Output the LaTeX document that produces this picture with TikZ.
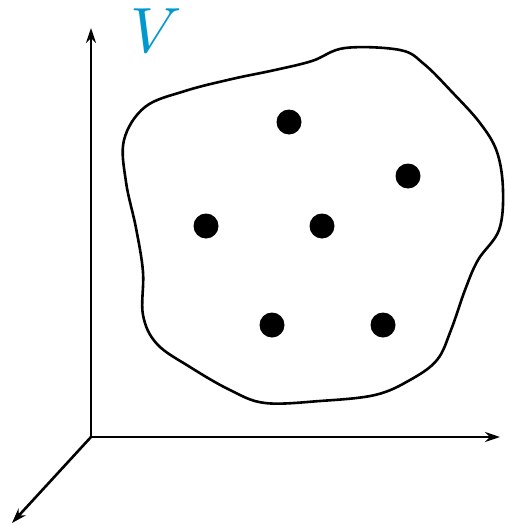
\documentclass[tikz,border=0pt]{standalone}
\usetikzlibrary{arrows.meta}
\definecolor{vblue}{RGB}{0,152,205}
\begin{document}
\begin{tikzpicture}[x=1pt,y=-1pt,
  axis/.style={line width=2.6pt,-{Stealth[length=15pt,width=10pt]}},
  blob/.style={line width=2.6pt},
  pt/.style={circle,fill=black,inner sep=0pt,minimum size=25pt}]
\useasboundingbox (0,0) rectangle (508,525);
\coordinate (o) at (91,437);
\coordinate (ytip) at (91,28);
\coordinate (xtip) at (500,437);
\coordinate (ztip) at (12,523);
\draw[axis] (o) -- (ytip);
\draw[axis] (o) -- (xtip);
\draw[axis] (o) -- (ztip);
\node[text=vblue,inner sep=0pt,scale=6.4] (V) at (156,31) {$V$};
\draw[blob] plot[smooth cycle,tension=0.6] coordinates {
(345,48) (400,50) (424,64) (452,92) (480,123) (497,152) (503,190)
(499,230) (478,260) (465,290) (451,330) (437,360) (410,380) (375,395)
(320,401) (265,403) (230,390) (190,367) (157,344) (143,315) (143,272)
(136,228) (126,182) (124,140) (145,107) (185,91) (232,79) (275,70) (312,61)};
\node[pt] (p1) at (289,122) {};
\node[pt] (p2) at (408,176) {};
\node[pt] (p3) at (206,226) {};
\node[pt] (p4) at (322,226) {};
\node[pt] (p5) at (272,325) {};
\node[pt] (p6) at (383,325) {};
\end{tikzpicture}
\end{document}
